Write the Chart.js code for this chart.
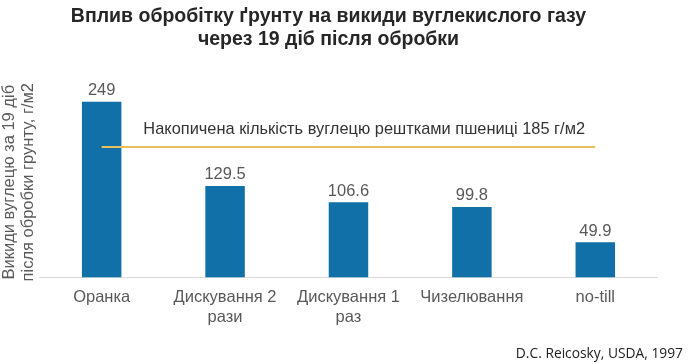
<!DOCTYPE html>
<html>
<head>
<meta charset="utf-8">
<script src="https://cdn.jsdelivr.net/npm/chart.js@4/dist/chart.umd.min.js"></script>
<style>
  html, body { margin: 0; padding: 0; background: #fff; }
  #wrap { position: relative; width: 689px; height: 364px; }
  #source {
    position: absolute; right: 6px; bottom: 2px;
    font-family: "Open Sans", "Liberation Sans", sans-serif;
    font-size: 13.8px; color: #222;
  }
</style>
</head>
<body>
<div id="wrap">
  <canvas id="chart" width="689" height="364"></canvas>
  <div id="source">D.C. Reicosky, USDA, 1997</div>
</div>
<script>
// Data
const categories = ['Оранка', ['Дискування 2', 'рази'], ['Дискування 1', 'раз'], 'Чизелювання', 'no-till'];
const emissions = [249, 129.5, 106.6, 99.8, 49.9];
const emissionLabels = ['249', '129.5', '106.6', '99.8', '49.9'];
const residueCarbon = [185, 185, 185, 185, 185];
const residueText = 'Накопичена кількість вуглецю рештками пшениці 185 г/м2';

const barColor = '#1170A8';
const lineColor = '#E8C15A';
const textColor = '#595959';

// value labels above bars + text over the reference line
const labelPlugin = {
    id: 'labels',
    afterDatasetsDraw(chart) {
        const ctx = chart.ctx;
        const meta = chart.getDatasetMeta(1);
        ctx.save();
        ctx.font = '16.5px "Liberation Sans", Arial, sans-serif';
        ctx.fillStyle = textColor;
        ctx.textAlign = 'center';
        ctx.textBaseline = 'bottom';
        meta.data.forEach((bar, i) => {
            ctx.fillText(emissionLabels[i], bar.x, bar.y - 3);
        });

        const xs = chart.scales.x, ys = chart.scales.y;
        ctx.font = '16.4px "Liberation Sans", Arial, sans-serif';
        ctx.fillStyle = '#333';
        ctx.fillText(residueText, (xs.getPixelForValue(2) + xs.getPixelForValue(3)) / 2 - 46, ys.getPixelForValue(185) - 9);
        ctx.restore();
    }
};

new Chart(document.getElementById('chart'), {
    data: {
        labels: categories,
        datasets: [
            {
                type: 'line',
                data: residueCarbon,
                borderColor: lineColor,
                borderWidth: 2,
                pointRadius: 0,
                order: 0
            },
            {
                type: 'bar',
                data: emissions,
                backgroundColor: barColor,
                barPercentage: 0.64,
                categoryPercentage: 0.5,
                order: 1
            }
        ]
    },
    options: {
        responsive: false,
        animation: false,
        layout: { padding: { left: 0, right: 32, top: 0, bottom: 27 } },
        plugins: {
            legend: { display: false },
            tooltip: { enabled: false },
            title: {
                display: true,
                text: ['Вплив обробітку ґрунту на викиди вуглекислого газу', 'через 19 діб після обробки'],
                font: { family: '"Liberation Sans", Arial, sans-serif', size: 19.5, weight: 'bold', lineHeight: 1.18 },
                color: '#262626',
                padding: { top: 5, bottom: 36 }
            }
        },
        scales: {
            x: {
                grid: { display: false, drawTicks: false },
                border: { color: '#d9d9d9', width: 1 },
                ticks: {
                    color: textColor,
                    font: { family: '"Liberation Sans", Arial, sans-serif', size: 16.5 },
                    padding: 10,
                    maxRotation: 0,
                    autoSkip: false
                }
            },
            y: {
                min: 0,
                max: 270,
                grid: { display: false, drawTicks: false },
                border: { display: false },
                ticks: { display: false },
                title: {
                    display: true,
                    text: ['Викиди вуглецю за 19 діб', 'після обробки грунту, г/м2'],
                    color: textColor,
                    font: { family: '"Liberation Sans", Arial, sans-serif', size: 16.5, lineHeight: 1.15 },
                    padding: { top: 0, bottom: 2 }
                }
            }
        }
    },
    plugins: [labelPlugin]
});
</script>
</body>
</html>
